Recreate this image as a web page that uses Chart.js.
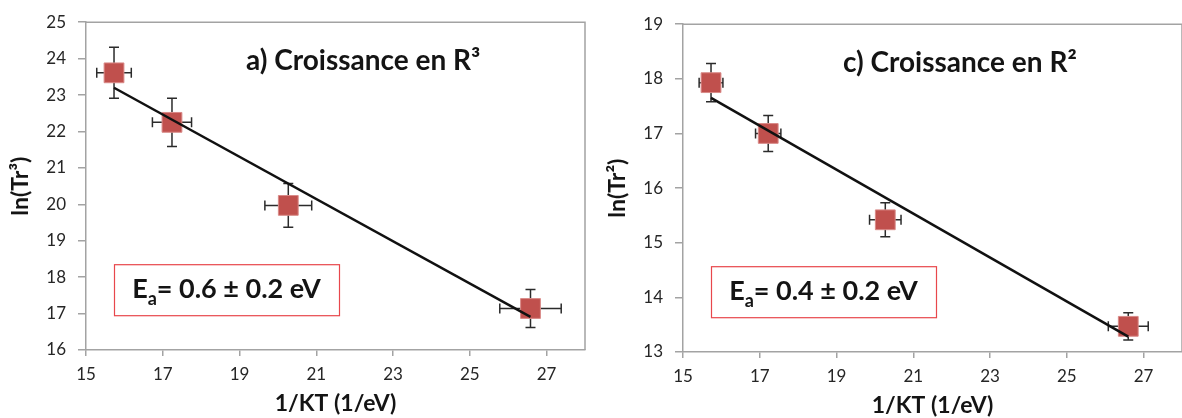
<!DOCTYPE html>
<html><head><meta charset="utf-8">
<script src="https://cdn.jsdelivr.net/npm/chart.js@4"></script>
<style>
html,body{margin:0;padding:0;background:#fff;overflow:hidden;width:1182px;height:418px;}
.wrap{position:absolute;width:600px;height:418px;}
#w1{left:0;top:0}
#w2{left:597px;top:2px}
</style></head><body>
<div class="wrap" id="w1"><canvas id="c1" width="600" height="418"></canvas></div>
<div class="wrap" id="w2"><canvas id="c2" width="600" height="418"></canvas></div>
<script>
// shared x ticks
const xTickValues = [15, 17, 19, 21, 23, 25, 27];

// Panel a) Croissance en R³
const aX    = [15.73, 17.24, 20.27, 26.58];
const aY    = [23.61, 22.25, 19.97, 17.14];
const aXErr = [0.45, 0.51, 0.61, 0.80];
const aYErr = [0.70, 0.66, 0.60, 0.52];
const aFitX = [15.73, 26.58];
const aFitY = [23.20, 16.91];
const aYTicks = [16, 17, 18, 19, 20, 21, 22, 23, 24, 25];

// Panel c) Croissance en R²
const cX    = [15.73, 17.22, 20.27, 26.60];
const cY    = [17.93, 17.00, 15.42, 13.47];
const cXErr = [0.31, 0.33, 0.41, 0.52];
const cYErr = [0.35, 0.33, 0.31, 0.25];
const cFitX = [15.73, 26.60];
const cFitY = [17.65, 13.28];
const cYTicks = [13, 14, 15, 16, 17, 18, 19];

const FONT = "Lato, 'Open Sans', sans-serif";
const AXIS_GREY = '#a3a3a3';

const panelPlugin = {
  id: 'panel',
  beforeDatasetsDraw(chart) {
    const o = chart.options.plugins.panel;
    const {ctx} = chart;
    const xs = chart.scales.x, ys = chart.scales.y;
    ctx.save();
    ctx.strokeStyle = '#2b2b2b';
    ctx.lineWidth = 1.5;
    const cap = 5;
    o.px.forEach((x, i) => {
      const y = o.py[i];
      const cx = xs.getPixelForValue(x), cy = ys.getPixelForValue(y);
      const x0 = xs.getPixelForValue(x - o.xerr[i]), x1 = xs.getPixelForValue(x + o.xerr[i]);
      const y0 = ys.getPixelForValue(y - o.yerr[i]), y1 = ys.getPixelForValue(y + o.yerr[i]);
      ctx.beginPath();
      ctx.moveTo(x0, cy); ctx.lineTo(x1, cy);
      ctx.moveTo(x0, cy - cap); ctx.lineTo(x0, cy + cap);
      ctx.moveTo(x1, cy - cap); ctx.lineTo(x1, cy + cap);
      ctx.moveTo(cx, y0); ctx.lineTo(cx, y1);
      ctx.moveTo(cx - cap, y0); ctx.lineTo(cx + cap, y0);
      ctx.moveTo(cx - cap, y1); ctx.lineTo(cx + cap, y1);
      ctx.stroke();
    });
    ctx.restore();
  },
  afterDraw(chart) {
    const o = chart.options.plugins.panel;
    const {ctx, chartArea: ca} = chart;
    ctx.save();
    // frame (top & right)
    ctx.strokeStyle = AXIS_GREY;
    ctx.lineWidth = 1.5;
    ctx.beginPath();
    ctx.moveTo(ca.left, ca.top); ctx.lineTo(ca.right, ca.top); ctx.lineTo(ca.right, ca.bottom);
    ctx.stroke();
    // panel title
    ctx.fillStyle = '#141414';
    ctx.textBaseline = 'alphabetic';
    ctx.textAlign = 'left';
    ctx.font = 'bold 28px ' + FONT;
    ctx.fillText(o.title, ca.left + 160, ca.top + 48);
    // Ea box
    const bx = ca.left + 28, by = ca.top + 242, bw = 225, bh = 51;
    ctx.strokeStyle = '#e8474c';
    ctx.lineWidth = 1.2;
    ctx.strokeRect(bx + 0.5, by + 0.5, bw, bh);
    const big = 'bold 27px ' + FONT, small = 'bold 18px ' + FONT;
    const rest = '= ' + o.ea;
    ctx.font = big; const wE = ctx.measureText('E').width; const wR = ctx.measureText(rest).width;
    ctx.font = small; const wa = ctx.measureText('a').width;
    let tx = bx + (bw - (wE + wa + wR)) / 2;
    const base = by + 34;
    ctx.font = big; ctx.fillText('E', tx, base); tx += wE;
    ctx.font = small; ctx.fillText('a', tx, base + 7); tx += wa;
    ctx.font = big; ctx.fillText(rest, tx, base);
    ctx.restore();
  }
};

function makeChart(id, X, Y, XE, YE, FX, FY, yTicks, ymin, ymax, ytitle, title, ea) {
  return new Chart(document.getElementById(id), {
    type: 'scatter',
    data: {
      datasets: [
        {
          type: 'line',
          data: FX.map((x, i) => ({x, y: FY[i]})),
          borderColor: '#111',
          borderWidth: 2.5,
          pointRadius: 0,
          fill: false,
          order: 0
        },
        {
          data: X.map((x, i) => ({x, y: Y[i]})),
          pointStyle: 'rect',
          pointRadius: 14,
          pointHoverRadius: 14,
          backgroundColor: '#c0504d',
          borderColor: '#d98a88',
          borderWidth: 1,
          order: 1
        }
      ]
    },
    options: {
      responsive: false,
      animation: false,
      events: [],
      layout: {padding: {left: 0, top: 20, right: 14, bottom: 0}},
      plugins: {
        legend: {display: false},
        tooltip: {enabled: false},
        panel: {px: X, py: Y, xerr: XE, yerr: YE, title, ea}
      },
      scales: {
        x: {
          type: 'linear',
          min: 15, max: 28,
          afterBuildTicks: s => { s.ticks = xTickValues.map(v => ({value: v})); },
          afterFit: s => { s.height = 68; },
          grid: {display: true, drawOnChartArea: false, drawTicks: true, tickLength: 6, color: AXIS_GREY, lineWidth: 1.5},
          border: {display: true, color: AXIS_GREY, width: 1.5},
          ticks: {font: {family: FONT, size: 17}, color: '#262626', padding: 8, maxRotation: 0},
          title: {display: true, text: '1/KT (1/eV)', font: {family: FONT, size: 23, weight: 'bold'}, color: '#141414', padding: {top: 0, bottom: 1}}
        },
        y: {
          type: 'linear',
          min: ymin, max: ymax,
          afterBuildTicks: s => { s.ticks = yTicks.map(v => ({value: v})); },
          afterFit: s => { s.width = 86; },
          grid: {display: true, drawOnChartArea: false, drawTicks: true, tickLength: 8, color: AXIS_GREY, lineWidth: 1.5},
          border: {display: true, color: AXIS_GREY, width: 1.5},
          ticks: {font: {family: FONT, size: 17}, color: '#262626', padding: 12},
          title: {display: true, text: ytitle, font: {family: FONT, size: 23, weight: 'bold'}, color: '#141414', padding: {top: 7, bottom: 0}}
        }
      }
    },
    plugins: [panelPlugin]
  });
}

makeChart('c1', aX, aY, aXErr, aYErr, aFitX, aFitY, aYTicks, 16, 25, 'ln(Tr³)', 'a) Croissance en R³', '0.6 ± 0.2 eV');
makeChart('c2', cX, cY, cXErr, cYErr, cFitX, cFitY, cYTicks, 13, 19, 'ln(Tr²)', 'c) Croissance en R²', '0.4 ± 0.2 eV');
</script>
</body></html>
